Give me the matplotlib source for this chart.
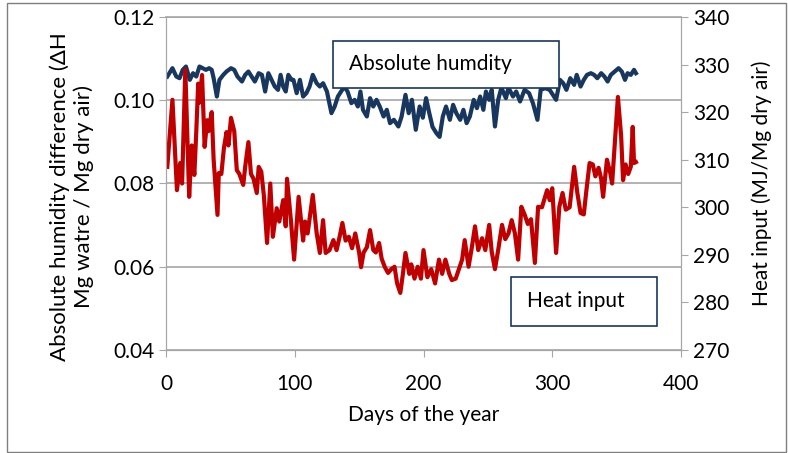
import matplotlib.pyplot as plt
from matplotlib.patches import Rectangle

# values
heat_days = [1, 5, 8.5, 11, 12.5, 15, 18, 20, 22, 23.5, 25, 26, 28, 30, 32, 33, 35.5, 37, 40, 41,
             43, 45, 47, 48.5, 50.5, 53, 55, 57, 60, 61.5, 64, 66, 68, 70.5, 72, 74, 76, 78.5, 81, 83,
             86, 88, 91, 93, 94, 97, 99.5, 103, 106.5, 108, 110, 114, 117, 119.5, 122, 124, 127, 130,
             132.5, 135, 137, 139.5, 142, 144.5, 147, 150, 151.5, 153.5, 156, 158.5, 161, 163, 165.5,
             167.5, 170, 172.5, 175, 177.5, 179.5, 182, 184, 186, 189, 190.5, 193, 195.5, 198, 200,
             203, 206, 209, 212, 214.5, 217, 220, 222, 225, 227.5, 230, 232, 235, 237.5, 240, 242.5,
             245.5, 248, 251, 253, 255.5, 258, 261, 263.5, 266, 268.5, 271, 273.5, 276, 278.5, 281,
             283.5, 286.5, 289, 292, 296, 298, 300, 303, 305.5, 308, 310.5, 313.5, 317, 319.5, 322,
             324.5, 326.5, 329, 331.5, 333.5, 336, 338, 339.5, 342.5, 345, 346.5, 348, 351, 353.5,
             355, 357, 359, 361, 362.5, 363.5, 365]
heat_input = [308.5, 322.6, 303.6, 309.3, 305, 328.9, 302.2, 313, 306.8, 315.8, 326, 322, 327.8, 312.7,
              318.3, 316, 320, 310, 298.4, 307.2, 307, 312.5, 315.8, 313, 318.8, 316, 307.8, 307,
              304.7, 308.5, 313.7, 307, 306, 303, 308.5, 307.5, 302.5, 292.5, 305, 293.8, 299.8, 297,
              301.5, 296, 306, 297.3, 289, 302.2, 293, 297, 294.5, 302.6, 294.6, 290.4, 297.3, 290.4,
              291, 293.1, 291, 294, 296.7, 293, 293.8, 291.4, 294.5, 290.5, 287.4, 290.5, 291.6,
              295.2, 291, 290.5, 292.5, 289.2, 287.4, 286.2, 287, 287.5, 284, 282, 286, 290.4, 286,
              288, 285, 287.5, 285, 291, 285.3, 287, 284, 289, 286, 289, 286, 284.7, 285, 287, 289,
              293.1, 287.5, 291.5, 296, 291, 293.5, 291, 296.3, 290.6, 287, 291, 296.3, 293.3, 294.5,
              297.3, 294.5, 289, 300.1, 298.5, 296.5, 297.5, 288.3, 300.1, 300, 303.6, 301.5, 304,
              290.4, 300.1, 303, 299.5, 300, 308.5, 303, 298.8, 298.5, 303.5, 309.3, 309, 306.5,
              308.3, 306, 302.2, 310, 307.3, 305, 311, 323.2, 315, 305.7, 309, 307, 308.5, 316.9,
              309.3, 309.5]

hum_days = [1, 5, 8, 10.5, 13, 15.5, 18.5, 21, 23.5, 26, 28.5, 31, 33.5, 35.5, 37, 39.5, 41.5, 44.5,
            47, 50.5, 53, 55.5, 59, 61.5, 64, 66.5, 69, 72, 74.5, 77, 79.5, 82, 84.5, 87, 89, 91, 93,
            95, 97.5, 99, 101.5, 104, 106.5, 109, 111.5, 114, 117, 119.5, 122, 125, 128.5, 131,
            133.5, 136, 138.5, 141, 144, 146.5, 149, 151, 153, 156, 158.5, 161, 163.5, 166, 169,
            171.5, 174, 177, 180.5, 183, 186, 188.5, 191, 194, 197, 199.5, 202, 204.5, 207, 210,
            212.5, 215, 217.5, 220.5, 223, 225.5, 228.5, 231, 233.5, 236, 239, 241.5, 244, 246.5,
            248.5, 251, 253, 255.5, 258, 260.5, 264, 266, 269.5, 272, 275, 278.5, 282, 285, 288.5,
            291, 294.5, 298, 303, 306, 308.5, 311, 314, 317, 319, 322, 324.5, 327, 330, 332.5, 335,
            338, 340.5, 343, 345.5, 348.5, 351.5, 354, 356.5, 358.5, 361, 363.5, 365]
abs_humidity = [0.1057, 0.1077, 0.1057, 0.1053, 0.1073, 0.1081, 0.1049, 0.1065, 0.1057, 0.1081,
                0.1077, 0.1073, 0.1077, 0.1073, 0.1053, 0.1009, 0.1049, 0.1061, 0.1069, 0.1077,
                0.1073, 0.1057, 0.1045, 0.1061, 0.1069, 0.1057, 0.1045, 0.1065, 0.1061, 0.1021,
                0.1065, 0.1049, 0.1033, 0.1025, 0.1061, 0.1033, 0.1021, 0.1061, 0.1049, 0.1049,
                0.1017, 0.1049, 0.1009, 0.1017, 0.1033, 0.1061, 0.1041, 0.1033, 0.1041, 0.1021,
                0.0969, 0.0985, 0.1009, 0.1021, 0.1033, 0.1021, 0.0993, 0.1001, 0.0985, 0.1021,
                0.0977, 0.0961, 0.1005, 0.0985, 0.1001, 0.0985, 0.0961, 0.0977, 0.0945, 0.0953,
                0.0937, 0.0961, 0.1013, 0.0969, 0.1001, 0.0929, 0.0985, 0.0958, 0.1005, 0.0969,
                0.0936, 0.0921, 0.0912, 0.0961, 0.0985, 0.0953, 0.0989, 0.0969, 0.0953, 0.0977,
                0.0945, 0.0961, 0.1001, 0.0981, 0.1009, 0.0977, 0.1021, 0.1001, 0.1025, 0.0937,
                0.1001, 0.1030, 0.1005, 0.1030, 0.1009, 0.1021, 0.0997, 0.1025, 0.1017, 0.0993,
                0.0953, 0.1025, 0.1029, 0.1025, 0.1001, 0.1049, 0.1041, 0.1025, 0.1053, 0.1037,
                0.1061, 0.1033, 0.1049, 0.1061, 0.1065, 0.1061, 0.1053, 0.1065, 0.1057, 0.1045,
                0.1061, 0.1069, 0.1077, 0.1069, 0.1049, 0.1065, 0.1061, 0.1073, 0.1065]

left_ticks = [0.04, 0.06, 0.08, 0.10, 0.12]
left_ticklabels = ['0.04', '0.06', '0.08', '0.10', '0.12']
right_ticks = [270, 280, 290, 300, 310, 320, 330, 340]
x_ticks = [0, 100, 200, 300, 400]

plt.rcParams['font.family'] = ['Lato', 'DejaVu Sans']
blue = '#17375E'
red = '#C00000'
grey = '#A6A6A6'

fig = plt.figure(figsize=(7.88, 4.53), dpi=100)
ax = fig.add_axes([166 / 788, 1 - 350 / 453, (681 - 166) / 788, 333 / 453])
ax2 = ax.twinx()

ax.plot(hum_days, abs_humidity, color=blue, lw=3.0, solid_joinstyle='round')
ax2.plot(heat_days, heat_input, color=red, lw=3.0, solid_joinstyle='round')

ax.set_xlim(0, 400)
ax.set_ylim(0.04, 0.12)
ax2.set_ylim(270, 340)
ax.set_xticks(x_ticks)
ax.set_yticks(left_ticks)
ax.set_yticklabels(left_ticklabels)
ax2.set_yticks(right_ticks)
ax.grid(axis='y', color=grey, lw=1.2)
ax.set_axisbelow(True)

for a in (ax, ax2):
    for s in a.spines.values():
        s.set_color(grey)
    a.spines['top'].set_visible(False)
    a.tick_params(colors=grey, labelcolor='black', labelsize=15, length=5, direction='out')
ax.tick_params(axis='x', pad=12)
ax.axhline(0.12, color=grey, lw=1.2, clip_on=False)

ax.set_xlabel('Days of the year', fontsize=15, labelpad=8)
ax.set_ylabel('Absolute humidity difference (ΔH\nMg watre / Mg dry air)', fontsize=16,
              labelpad=14, linespacing=1.2)
ax.yaxis.label.set_y(0.46)
ax2.set_ylabel('Heat input (MJ/Mg dry air)', fontsize=15, labelpad=16)

# label boxes
fig.add_artist(Rectangle((333 / 788, 1 - 88 / 453), 226 / 788, 47 / 453, transform=fig.transFigure,
                         facecolor='white', edgecolor=blue, lw=1.2, zorder=5))
fig.text(349 / 788, 1 - 64 / 453, 'Absolute humdity', fontsize=15, va='center', zorder=6)
fig.add_artist(Rectangle((511 / 788, 1 - 326 / 453), 146 / 788, 49 / 453, transform=fig.transFigure,
                         facecolor='white', edgecolor=blue, lw=1.2, zorder=5))
fig.text(527 / 788, 1 - 301 / 453, 'Heat input', fontsize=15, va='center', zorder=6)

# outer frame
fig.add_artist(Rectangle((7 / 788, 1 - 452 / 453), 779 / 788, 449 / 453, transform=fig.transFigure,
                         facecolor='none', edgecolor='#7F7F7F', lw=1.0))

plt.savefig('out.png', dpi=100)
